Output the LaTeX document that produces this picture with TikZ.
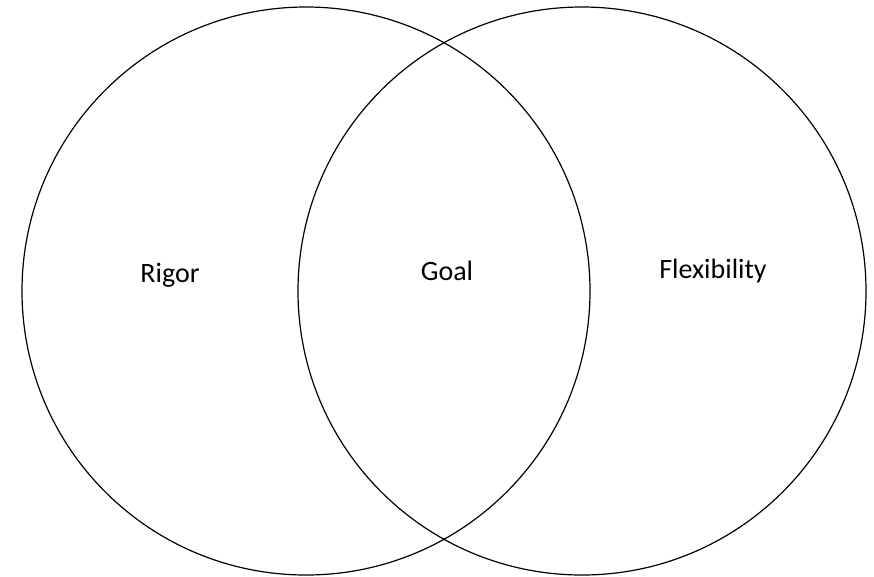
\documentclass[tikz,border=0pt]{standalone}
\usepackage{fontspec}
\setmainfont{Carlito}
\usepackage{tikz}
\usetikzlibrary{positioning}

\begin{document}
\begin{tikzpicture}[x=1pt,y=-1pt,
  set/.style={draw=black,line width=1.2pt,circle,minimum size=568pt,inner sep=0pt},
  lbl/.style={font=\fontsize{28}{32}\selectfont,inner sep=0pt}]
\useasboundingbox (0,0) rectangle (874,576);
\node[set] (rigorset) at (306,291) {};
\node[set] (flexset) at (582,291) {};
\node[lbl] (rigor) at (170,275) {Rigor};
\node[lbl] (goal) at (447,271) {Goal};
\node[lbl] (flex) at (713,271) {Flexibility};
\end{tikzpicture}
\end{document}
